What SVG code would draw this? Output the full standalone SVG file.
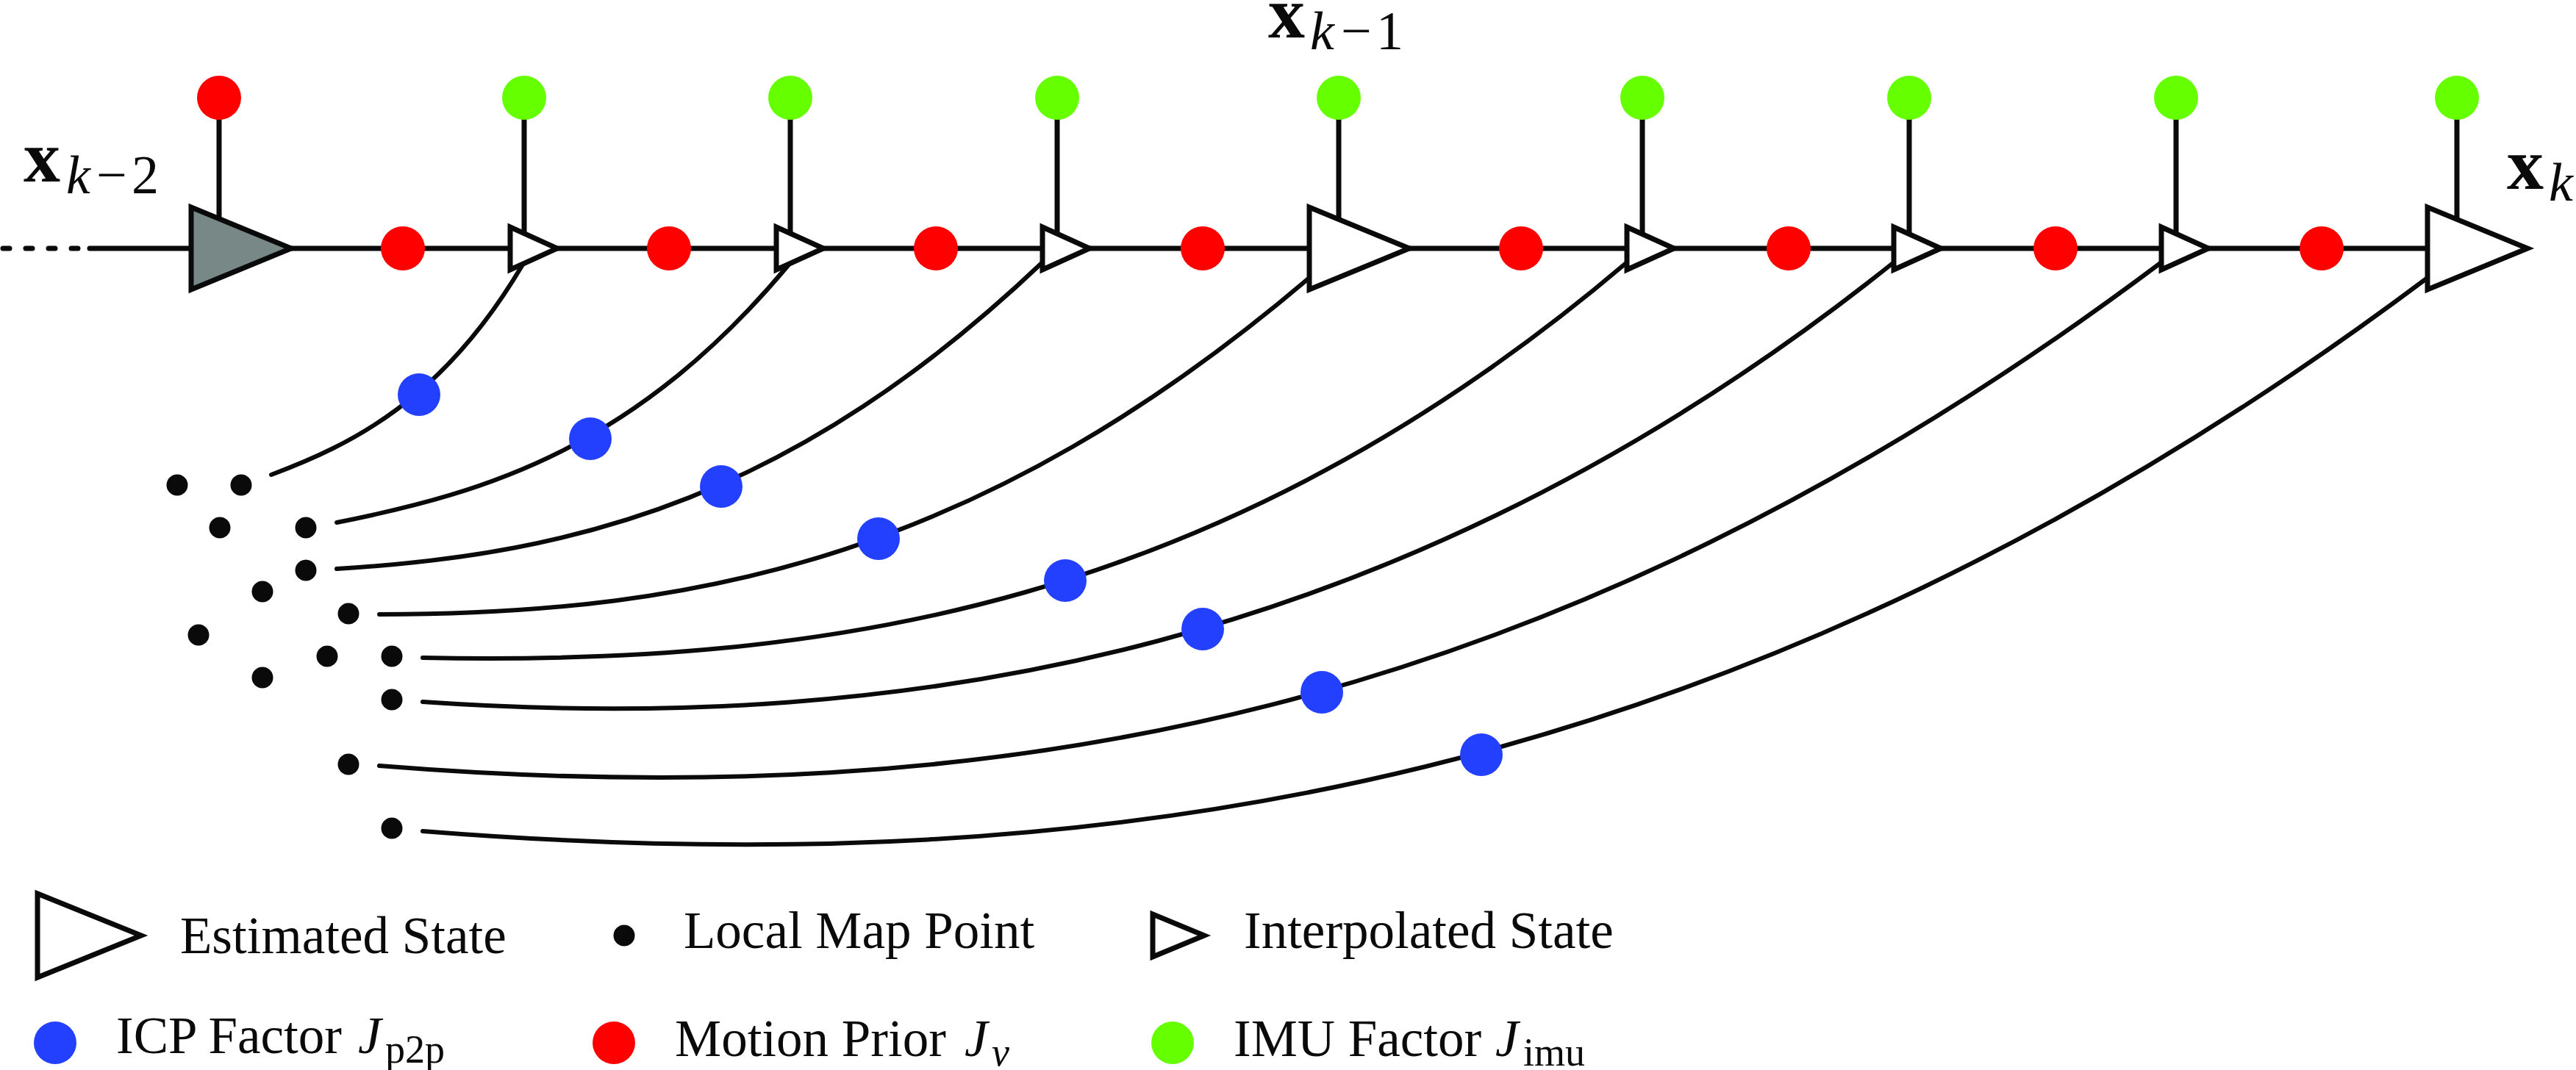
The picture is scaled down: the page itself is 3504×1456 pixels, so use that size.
<svg xmlns="http://www.w3.org/2000/svg" width="3504" height="1456" viewBox="0 0 3504 1456">
<style>
.line{stroke:#0a0a0a;stroke-width:7;fill:none}
.dots{stroke:#0a0a0a;stroke-width:7;fill:none;stroke-linecap:round;stroke-dasharray:9 22}
.curve{stroke:#0a0a0a;stroke-width:6;fill:none;stroke-linecap:round}
.tri{fill:#ffffff;stroke:#0a0a0a;stroke-width:7;stroke-linejoin:miter}
.gray{fill:#778887}
.red{fill:#ff0000}
.green{fill:#66ff00}
.blue{fill:#2340ff}
.pt{fill:#0a0a0a}
text{font-family:"Liberation Serif","Times New Roman",serif;fill:#0a0a0a}
.lg{font-size:71px}
.bx{font-size:100px;font-weight:bold}
.sub{font-size:74px}
.it{font-style:italic}
.ls{font-size:54px}
</style>
<rect width="3504" height="1456" fill="#ffffff"/>
<g id="connectors">
<path class="dots" d="M4,338 H112"/>
<path class="line" d="M122,338 H3302" stroke-linecap="round"/>
<path class="line" d="M298,133 V338"/>
<path class="line" d="M713,133 V338"/>
<path class="line" d="M1075,133 V338"/>
<path class="line" d="M1438,133 V338"/>
<path class="line" d="M1821,133 V338"/>
<path class="line" d="M2234,133 V338"/>
<path class="line" d="M2597,133 V338"/>
<path class="line" d="M2960,133 V338"/>
<path class="line" d="M3342,133 V338"/>
<path class="curve" d="M369,646 C478,605 602,545 711,360"/>
<path class="curve" d="M458,711 C665,670 866,608 1073,360"/>
<path class="curve" d="M458,774 C792,754 1084,674 1418,357"/>
<path class="curve" d="M516,836 C957,836 1340,753 1781,378"/>
<path class="curve" d="M575,895 C1127,906 1661,826 2213,357"/>
<path class="curve" d="M575,955 C1237,1001 1914,887 2576,357"/>
<path class="curve" d="M516,1042 C1350,1109 2106,983 2940,357"/>
<path class="curve" d="M575,1131 C1503,1205 2374,1074 3302,378"/>
</g>
<g id="state-k-2"><polygon class="tri gray" points="260,282 260,394 396,338"/></g>
<g id="interp-1"><polygon class="tri" points="694,309 694,367 758,338"/></g>
<g id="interp-2"><polygon class="tri" points="1056,309 1056,367 1120,338"/></g>
<g id="interp-3"><polygon class="tri" points="1418,309 1418,367 1482,338"/></g>
<g id="state-k-1"><polygon class="tri" points="1781,282 1781,394 1917,338"/></g>
<g id="interp-4"><polygon class="tri" points="2213,309 2213,367 2277,338"/></g>
<g id="interp-5"><polygon class="tri" points="2576,309 2576,367 2640,338"/></g>
<g id="interp-6"><polygon class="tri" points="2940,309 2940,367 3004,338"/></g>
<g id="state-k"><polygon class="tri" points="3302,282 3302,394 3438,338"/></g>
<g id="top-factors">
<circle class="red" cx="298" cy="133" r="30"/>
<circle class="green" cx="713" cy="133" r="30"/>
<circle class="green" cx="1075" cy="133" r="30"/>
<circle class="green" cx="1438" cy="133" r="30"/>
<circle class="green" cx="1821" cy="133" r="30"/>
<circle class="green" cx="2234" cy="133" r="30"/>
<circle class="green" cx="2597" cy="133" r="30"/>
<circle class="green" cx="2960" cy="133" r="30"/>
<circle class="green" cx="3342" cy="133" r="30"/>
</g>
<g id="motion-priors">
<circle class="red" cx="548" cy="338" r="30"/>
<circle class="red" cx="910" cy="338" r="30"/>
<circle class="red" cx="1273" cy="338" r="30"/>
<circle class="red" cx="1636" cy="338" r="30"/>
<circle class="red" cx="2069" cy="338" r="30"/>
<circle class="red" cx="2433" cy="338" r="30"/>
<circle class="red" cx="2796" cy="338" r="30"/>
<circle class="red" cx="3158" cy="338" r="30"/>
</g>
<g id="icp-factors">
<circle class="blue" cx="570" cy="537" r="29"/>
<circle class="blue" cx="803" cy="597" r="29"/>
<circle class="blue" cx="981" cy="662" r="29"/>
<circle class="blue" cx="1195" cy="733" r="29"/>
<circle class="blue" cx="1449" cy="790" r="29"/>
<circle class="blue" cx="1636" cy="856" r="29"/>
<circle class="blue" cx="1798" cy="942" r="29"/>
<circle class="blue" cx="2015" cy="1027" r="29"/>
</g>
<g id="map-points">
<circle class="pt" cx="241" cy="660" r="14.5"/>
<circle class="pt" cx="328" cy="660" r="14.5"/>
<circle class="pt" cx="299" cy="718" r="14.5"/>
<circle class="pt" cx="416" cy="718" r="14.5"/>
<circle class="pt" cx="416" cy="776" r="14.5"/>
<circle class="pt" cx="357" cy="805" r="14.5"/>
<circle class="pt" cx="474" cy="835" r="14.5"/>
<circle class="pt" cx="270" cy="864" r="14.5"/>
<circle class="pt" cx="445" cy="893" r="14.5"/>
<circle class="pt" cx="533" cy="893" r="14.5"/>
<circle class="pt" cx="357" cy="922" r="14.5"/>
<circle class="pt" cx="533" cy="952" r="14.5"/>
<circle class="pt" cx="474" cy="1040" r="14.5"/>
<circle class="pt" cx="533" cy="1127" r="14.5"/>
</g>
<g id="labels">
<text x="32" y="247"><tspan class="bx">x</tspan><tspan class="sub it" x="90" y="263">k</tspan><tspan class="sub" x="131" y="263">−</tspan><tspan class="sub" x="179" y="263">2</tspan></text>
<text x="1725" y="51"><tspan class="bx">x</tspan><tspan class="sub it" x="1782" y="67">k</tspan><tspan class="sub" x="1824" y="67">−</tspan><tspan class="sub" x="1872" y="67">1</tspan></text>
<text x="3410" y="257"><tspan class="bx">x</tspan><tspan class="sub it" x="3467" y="273">k</tspan></text>
</g>
<g id="legend">
<g id="legend-estimated"><polygon class="tri" points="51,1216 51,1330 192,1273"/><text class="lg" x="245" y="1297">Estimated State</text></g>
<g id="legend-mappoint"><circle class="pt" cx="849" cy="1273" r="14.5"/><text class="lg" x="930" y="1290">Local Map Point</text></g>
<g id="legend-interp"><polygon class="tri" points="1568,1244 1568,1302 1638,1273"/><text class="lg" x="1692" y="1290">Interpolated State</text></g>
<g id="legend-icp"><circle class="blue" cx="75" cy="1419" r="29"/><text class="lg" x="158" y="1433">ICP Factor <tspan class="it" x="487">J</tspan><tspan class="ls" x="524" y="1446">p2p</tspan></text></g>
<g id="legend-motion"><circle class="red" cx="835" cy="1419" r="29"/><text class="lg" x="918" y="1437">Motion Prior <tspan class="it" x="1312">J</tspan><tspan class="ls it" x="1349" y="1450">v</tspan></text></g>
<g id="legend-imu"><circle class="green" cx="1595" cy="1419" r="29"/><text class="lg" x="1678" y="1437">IMU Factor <tspan class="it" x="2034">J</tspan><tspan class="ls" x="2072" y="1450">imu</tspan></text></g>
</g>
</svg>
